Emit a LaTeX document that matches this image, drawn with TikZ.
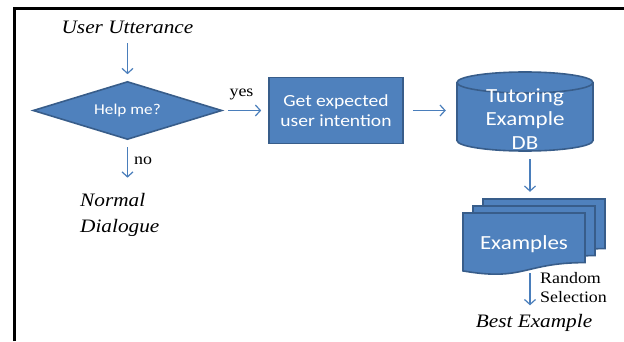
\documentclass[tikz,border=0pt]{standalone}
\usepackage{fontspec}
\newfontfamily\sansf[FakeStretch=1.15]{Carlito}
\newfontfamily\serf[FakeStretch=1.12]{Liberation Serif}
\usetikzlibrary{arrows.meta,shapes.geometric,calc}
\definecolor{bfill}{HTML}{4F81BD}
\definecolor{bline}{HTML}{385D8A}
\definecolor{arrc}{HTML}{4A7EBB}
\newcommand\docshape[2]{%
  \filldraw[shp] (#1,#2) -- ({#1+122},#2) -- ({#1+122},{#2-49.6})
    .. controls ({#1+61},{#2-49.6}) and ({#1+61},{#2-68.6}) .. (#1,{#2-57.9}) -- cycle;}
\begin{document}
\begin{tikzpicture}[x=1pt,y=1pt,
  shp/.style={fill=bfill, draw=bline, line width=1.6pt},
  arr/.style={draw=arrc, line width=1.2pt, -{Straight Barb[length=5pt,width=11pt]}},
  itl/.style={font=\serf\itshape\fontsize{19}{26}\selectfont, inner sep=0pt},
  rml/.style={font=\serf\fontsize{16}{19}\selectfont, inner sep=0pt},
  wt/.style={text=white, align=center, inner sep=0pt}]
\useasboundingbox (0,0) rectangle (624,341);
% frame
\draw[line width=3pt] (14.5,0) -- (14.5,332.5) -- (624,332.5);

% user utterance
\node[itl, text height=13pt, text depth=4pt] (uu) at (127.5,312.5) {User Utterance};
% decision
\node[shp, diamond, shape aspect=3.26, minimum width=189pt, minimum height=58pt,
      wt, font=\sansf\fontsize{15}{18}\selectfont] (dia) at (127.5,230.5) {Help me?};
% normal dialogue
\node[itl, align=left, anchor=west] (nd) at (80,126.5) {Normal\\Dialogue};
\node[rml, anchor=west, text height=8pt, text depth=0pt] (no) at (134,181) {no};
\node[rml, text height=8pt, text depth=3pt] (yes) at (241.5,247) {yes};
% box
\node[shp, rectangle, minimum width=134pt, minimum height=66pt, wt,
      font=\sansf\fontsize{17}{20}\selectfont] (gi) at (336,230.5) {Get expected\\user intention};
% cylinder
\node[minimum width=136pt, minimum height=79pt, inner sep=0pt] (db) at (525,229.5) {};
\filldraw[shp] (457,258.5) -- (457,200.5)
  arc[start angle=180, end angle=360, x radius=68, y radius=10.5]
  -- (593,258.5)
  arc[start angle=0, end angle=180, x radius=68, y radius=10.5] -- cycle;
\draw[draw=bline, line width=1.6pt] (457,258.5)
  arc[start angle=180, end angle=360, x radius=68, y radius=10.5];
\node[wt, font=\sansf\fontsize{20}{23.5}\selectfont] (dbt) at (525,222) {Tutoring\\Example\\DB};
% examples (multi-document)
\docshape{483}{142}
\docshape{473}{135}
\docshape{463}{128}
\node[minimum width=122pt, minimum height=62pt, inner sep=0pt, wt,
      font=\sansf\fontsize{20}{24}\selectfont] (ex) at (524,97) {Examples};
\node[rml, align=left, anchor=west] (rs) at (540,53) {Random\\Selection};
\node[itl, text height=13pt, text depth=4pt] (best) at (534,18.5) {Best Example};

% connectors
\draw[arr] ($(uu.south)+(0,-6)$) -- ($(dia.north)+(0,6.5)$);
\draw[arr] ($(dia.south)+(0,-7)$) -- ($(dia.south |- nd.north)+(0,15)$);
\draw[arr] ($(dia.east)+(5,0)$) -- ($(gi.west)+(-7,0)$);
\draw[arr] ($(gi.east)+(9,0)$) -- ($(db.west |- gi.east)+(-11,0)$);
\draw[arr] ($(db.south)+(5,-8)$) -- ($(ex.north)+(6,21)$);
\draw[arr] ($(ex.south)+(6,2)$) -- ($(best.north)+(-4,8.5)$);
\end{tikzpicture}
\end{document}
